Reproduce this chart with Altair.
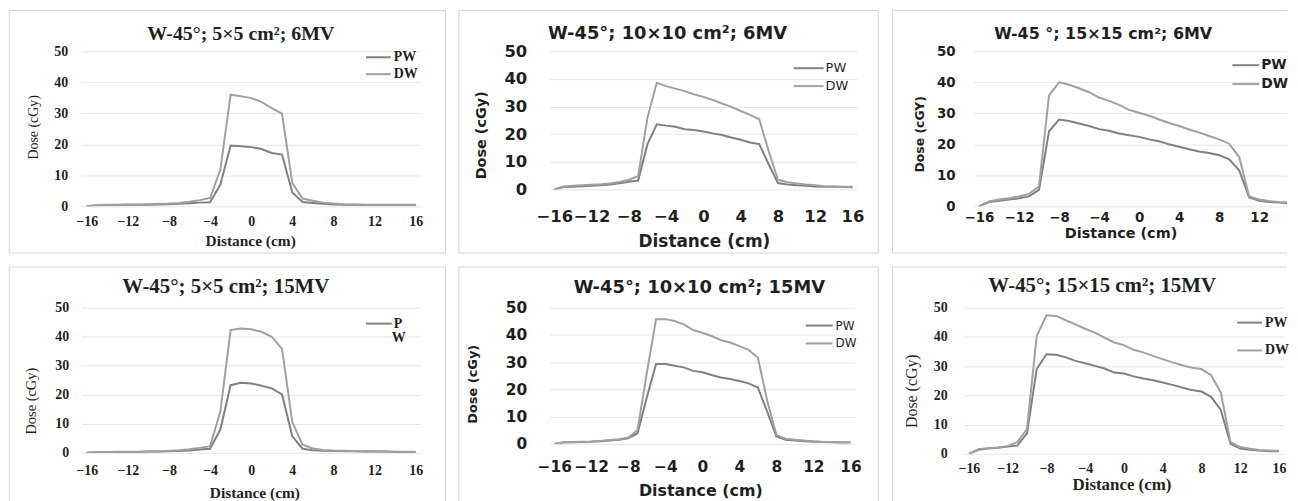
import altair as alt
import pandas as pd

# ---------------- data ----------------
distance = list(range(-16, 17))

pw_5_6 = [0, 0.3, 0.4, 0.4, 0.5, 0.5, 0.5, 0.6, 0.7, 0.8, 1.0, 1.2, 1.3,
          7.0, 19.6, 19.4, 19.1, 18.5, 17.2, 16.7,
          4.5, 1.4, 1.1, 0.8, 0.6, 0.5, 0.5, 0.4, 0.4, 0.4, 0.4, 0.4, 0.4]
dw_5_6 = [0, 0.4, 0.5, 0.5, 0.6, 0.6, 0.7, 0.8, 0.9, 1.1, 1.5, 2.0, 2.7,
          11.8, 36.0, 35.5, 34.9, 33.7, 31.7, 29.9,
          7.5, 2.5, 1.8, 1.2, 0.9, 0.7, 0.6, 0.5, 0.5, 0.5, 0.5, 0.5, 0.5]

pw_10_6 = [0, 0.9, 1.0, 1.2, 1.3, 1.5, 1.8, 2.2, 2.8, 3.2,
           16.4, 23.6, 23.1, 22.7, 21.8, 21.5, 21.0, 20.3, 19.7, 18.8, 18.0, 17.0, 16.4,
           9.2, 2.3, 1.8, 1.5, 1.3, 1.1, 1.0, 1.0, 0.9, 0.8]
dw_10_6 = [0, 1.1, 1.3, 1.5, 1.7, 1.9, 2.2, 2.7, 3.5, 4.8,
           26.0, 38.6, 37.4, 36.5, 35.6, 34.4, 33.5, 32.4, 31.1, 29.9, 28.4, 27.0, 25.4,
           14.0, 3.5, 2.6, 2.2, 1.8, 1.5, 1.2, 1.1, 1.0, 1.0]

pw_15_6 = [0, 1.4, 1.8, 2.2, 2.6, 3.2, 5.3,
           24.2, 28.0, 27.5, 26.7, 25.9, 24.9, 24.4, 23.5, 22.9, 22.4, 21.6, 21.0, 20.0,
           19.2, 18.4, 17.7, 17.2, 16.5, 15.2, 11.6,
           2.9, 1.8, 1.4, 1.2, 1.0, 0.9]
dw_15_6 = [0, 1.6, 2.2, 2.6, 3.2, 4.0, 6.5,
           35.8, 40.0, 39.2, 38.1, 36.8, 35.1, 34.0, 32.7, 31.1, 30.2, 29.2, 28.0, 26.9,
           25.9, 24.8, 23.8, 22.7, 21.6, 20.2, 15.9,
           3.2, 2.2, 1.7, 1.4, 1.2, 1.0]

pw_5_15 = [0, 0.2, 0.3, 0.3, 0.3, 0.3, 0.4, 0.4, 0.5, 0.6, 0.8, 1.1, 1.4,
           8.0, 23.3, 24.1, 23.9, 23.1, 22.2, 20.1,
           5.7, 1.4, 0.9, 0.7, 0.6, 0.5, 0.5, 0.4, 0.4, 0.4, 0.3, 0.3, 0.3]
dw_5_15 = [0, 0.3, 0.3, 0.4, 0.4, 0.4, 0.5, 0.5, 0.7, 0.9, 1.2, 1.7, 2.3,
           14.2, 42.3, 42.8, 42.6, 41.7, 40.0, 35.8,
           10.5, 2.8, 1.5, 1.0, 0.8, 0.7, 0.6, 0.6, 0.5, 0.5, 0.4, 0.4, 0.4]

pw_10_15 = [0, 0.5, 0.6, 0.7, 0.8, 1.0, 1.2, 1.5, 2.0, 3.9,
            17.0, 29.3, 29.3, 28.7, 28.1, 26.8, 26.3, 25.3, 24.4, 23.8, 23.1, 22.2, 20.7,
            11.9, 2.7, 1.5, 1.2, 1.0, 0.8, 0.7, 0.6, 0.5, 0.5]
dw_10_15 = [0, 0.6, 0.7, 0.8, 0.9, 1.1, 1.4, 1.7, 2.3, 5.1,
            26.0, 45.8, 45.8, 45.1, 43.9, 41.8, 40.8, 39.6, 38.1, 37.2, 35.9, 34.5, 31.7,
            16.0, 3.3, 1.9, 1.5, 1.2, 1.0, 0.8, 0.7, 0.6, 0.5]

pw_15_15 = [0, 1.4, 1.8, 2.1, 2.5, 2.8, 7.0,
            29.0, 34.1, 33.9, 33.0, 31.8, 31.0, 30.1, 29.2, 27.8, 27.5, 26.5, 25.8, 25.2,
            24.4, 23.6, 22.7, 21.8, 21.3, 19.5, 15.0,
            3.4, 1.8, 1.4, 1.1, 0.9, 0.9]
dw_15_15 = [0, 1.6, 1.9, 2.2, 2.6, 4.0, 8.5,
            40.3, 47.4, 47.2, 45.7, 44.3, 42.8, 41.5, 39.8, 38.1, 37.2, 35.6, 34.7, 33.5,
            32.4, 31.3, 30.3, 29.5, 29.0, 26.9, 21.0,
            4.0, 2.3, 1.7, 1.3, 1.1, 1.0]

panel_titles = ["W-45°; 5×5 cm²; 6MV", "W-45°; 10×10 cm²; 6MV", "W-45 °; 15×15 cm²; 6MV",
                "W-45°; 5×5 cm²; 15MV", "W-45°; 10×10 cm²; 15MV", "W-45°; 15×15 cm²; 15MV"]
y_titles = ["Dose (cGy)", "Dose (cGy)", "Dose (cGY)", "Dose (cGy)", "Dose (cGy)", "Dose (cGy)"]
x_title = "Distance (cm)"
legend_labels = [["PW", "DW"], ["PW", "DW"], ["PW", "DW"], ["P", "W"], ["PW", "DW"], ["PW", "DW"]]
series_names = ["PW", "DW"]
x_ticks = [-16, -12, -8, -4, 0, 4, 8, 12, 16]
x_ticks_cut = [-16, -12, -8, -4, 0, 4, 8, 12]
y_ticks = [0, 10, 20, 30, 40, 50]

# ---------------- style ----------------
SERIF = "Liberation Serif"
SANS = "DejaVu Sans"
TXT = "#1f1f1f"
GRID = "#e6e6e6"
BORDER = "#d6d6d6"
C_PW = "#808080"
C_DW = "#a0a0a0"

# layout in page pixels (x-title y is its alphabetic baseline)
layouts = [
    dict(font=SERIF, L=80.8, T=49, W=341.4, H=156, box=(8, 447, 8, 252), right=True,
         xdom=[-16.5, 16.5], xt=x_ticks,
         tpos=(241, 32), tsize=20,
         ytpos=(32, 125), ytsize=14, ytw="normal",
         xtpos=(250.5, 244), xtsize=15.5, xtw="bold",
         lsize=14, lw="bold", ylpad=14, xlcy=220,
         leg=(367, 392, [395, 395], [55, 72], [True, True]), legsize=14, legw="bold"),
    dict(font=SANS, L=550.3, T=49, W=309.4, H=139, box=(459, 881, 8, 252), right=True,
         xdom=[-16.5, 16.5], xt=x_ticks,
         tpos=(669, 32), tsize=18,
         ytpos=(482, 133), ytsize=14.5, ytw="bold",
         xtpos=(705.5, 245), xtsize=17, xtw="bold",
         lsize=16.5, lw="bold", ylpad=23, xlcy=215,
         leg=(796, 826, [828, 828], [66, 84], [True, True]), legsize=13, legw="normal"),
    dict(font=SANS, L=975, T=49, W=315, H=156, box=(893, 1290, 8, 252), right=False,
         xdom=[-16.5, 14.78], xt=x_ticks_cut,
         tpos=(1105, 32), tsize=16,
         ytpos=(920, 132), ytsize=12.5, ytw="bold",
         xtpos=(1122.5, 236), xtsize=14.5, xtw="bold",
         lsize=13.5, lw="bold", ylpad=19, xlcy=216,
         leg=(1235, 1262, [1264, 1264], [63, 82], [True, True]), legsize=14, legw="bold"),
    dict(font=SERIF, L=80.8, T=305, W=341.4, H=146, box=(8, 447, 264, 511), right=True,
         xdom=[-16.5, 16.5], xt=x_ticks,
         tpos=(226, 284), tsize=21,
         ytpos=(30, 398.5), ytsize=14.5, ytw="normal",
         xtpos=(254.7, 495.5), xtsize=15.5, xtw="bold",
         lsize=14, lw="bold", ylpad=13, xlcy=469,
         leg=(367, 393, [395, 393], [321, 335], [True, False]), legsize=14, legw="bold"),
    dict(font=SANS, L=550.3, T=305, W=307.3, H=137, box=(459, 881, 264, 511), right=True,
         xdom=[-16.5, 16.5], xt=x_ticks,
         tpos=(701, 285), tsize=18,
         ytpos=(473, 381.5), ytsize=13, ytw="bold",
         xtpos=(702, 494), xtsize=16, xtw="bold",
         lsize=15.5, lw="bold", ylpad=23, xlcy=465,
         leg=(808, 835, [838, 838], [323, 341], [True, True]), legsize=12, legw="normal"),
    dict(font=SERIF, L=965.1, T=305, W=321.75, H=147, box=(893, 1290, 264, 511), right=False,
         xdom=[-16.5, 16.5], xt=x_ticks,
         tpos=(1104, 283), tsize=21,
         ytpos=(912, 388.5), ytsize=16, ytw="normal",
         xtpos=(1123.5, 488), xtsize=17, xtw="bold",
         lsize=14, lw="bold", ylpad=17, xlcy=467,
         leg=(1240, 1265, [1268, 1268], [320, 348], [True, True]), legsize=14, legw="bold"),
]

series = [(pw_5_6, dw_5_6), (pw_10_6, dw_10_6), (pw_15_6, dw_15_6),
          (pw_5_15, dw_5_15), (pw_10_15, dw_10_15), (pw_15_15, dw_15_15)]

one = pd.DataFrame({"k": [0]})


def make_panel(i):
    p = layouts[i]
    pw, dw = series[i]
    L, T, W, H = p["L"], p["T"], p["W"], p["H"]
    df = pd.DataFrame({
        "Distance": distance + distance,
        "Dose": pw + dw,
        "Series": [series_names[0]] * len(distance) + [series_names[1]] * len(distance),
    })
    bx1, bx2, by1, by2 = p["box"]
    # invisible rect that fixes the panel's bounds, plus visible border sides
    bounds = alt.Chart(one).mark_rect(fillOpacity=0, strokeOpacity=0).encode(
        x=alt.value(bx1 - L), x2=alt.value(bx2 - L),
        y=alt.value(by1 - T), y2=alt.value(by2 - T))
    border = [
        alt.Chart(one).mark_rule(color=BORDER, strokeWidth=1).encode(
            x=alt.value(bx1 - L), x2=alt.value(bx2 - L), y=alt.value(by1 - T)),
        alt.Chart(one).mark_rule(color=BORDER, strokeWidth=1).encode(
            x=alt.value(bx1 - L), x2=alt.value(bx2 - L), y=alt.value(by2 - T)),
        alt.Chart(one).mark_rule(color=BORDER, strokeWidth=1).encode(
            x=alt.value(bx1 - L), y=alt.value(by1 - T), y2=alt.value(by2 - T)),
    ]
    if p["right"]:
        border.append(alt.Chart(one).mark_rule(color=BORDER, strokeWidth=1).encode(
            x=alt.value(bx2 - L), y=alt.value(by1 - T), y2=alt.value(by2 - T)))

    x_axis = alt.Axis(values=p["xt"], grid=False, ticks=False, tickSize=0, domain=False,
                      labelFont=p["font"], labelFontSize=p["lsize"], labelFontWeight=p["lw"],
                      labelColor=TXT, labelPadding=p["xlcy"] - (T + H), labelBaseline="middle",
                      labelFlush=False, labelOverlap=False,
                      title=x_title, titleFont=p["font"], titleFontSize=p["xtsize"],
                      titleFontWeight=p["xtw"], titleColor=TXT,
                      titleX=p["xtpos"][0] - L, titleY=p["xtpos"][1] - (T + H),
                      titleAlign="center", titleBaseline="alphabetic", titleAngle=0)
    y_axis = alt.Axis(values=y_ticks, grid=True, gridColor=GRID, gridWidth=1,
                      ticks=False, tickSize=0, domain=False,
                      labelFont=p["font"], labelFontSize=p["lsize"], labelFontWeight=p["lw"],
                      labelColor=TXT, labelPadding=p["ylpad"], labelAlign="right",
                      labelBaseline="middle", labelOverlap=False,
                      title=y_titles[i], titleFont=p["font"], titleFontSize=p["ytsize"],
                      titleFontWeight=p["ytw"], titleColor=TXT,
                      titleX=p["ytpos"][0] - L, titleY=p["ytpos"][1] - T,
                      titleAlign="center", titleBaseline="middle", titleAngle=270)

    lines = alt.Chart(df).mark_line(strokeWidth=2, clip=True).encode(
        x=alt.X("Distance:Q", scale=alt.Scale(domain=p["xdom"], nice=False, zero=False), axis=x_axis),
        y=alt.Y("Dose:Q", scale=alt.Scale(domain=[0, 50], nice=False), axis=y_axis),
        color=alt.Color("Series:N", scale=alt.Scale(domain=series_names, range=[C_PW, C_DW]), legend=None),
    )

    title = alt.Chart(one).mark_text(text=panel_titles[i], font=p["font"], fontSize=p["tsize"],
                                     fontWeight="bold", color=TXT, align="center",
                                     baseline="middle").encode(
        x=alt.value(p["tpos"][0] - L), y=alt.value(p["tpos"][1] - T))

    layers = [bounds] + border + [lines, title]
    lx1, lx2, txs, lys, has_line = p["leg"]
    colors = [C_PW, C_DW]
    for k, lab in enumerate(legend_labels[i]):
        if has_line[k]:
            layers.append(alt.Chart(one).mark_rule(color=colors[k], strokeWidth=2).encode(
                x=alt.value(lx1 - L), x2=alt.value(lx2 - L), y=alt.value(lys[k] - T)))
        layers.append(alt.Chart(one).mark_text(text=lab, font=p["font"], fontSize=p["legsize"],
                                               fontWeight=p["legw"], color=TXT, align="left",
                                               baseline="middle").encode(
            x=alt.value(txs[k] - L), y=alt.value(lys[k] - T)))
    return alt.layer(*layers).properties(width=W, height=H)


row1 = alt.hconcat(make_panel(0), make_panel(1), make_panel(2), spacing=12)
row2 = alt.hconcat(make_panel(3), make_panel(4), make_panel(5), spacing=12)
chart = alt.vconcat(row1, row2, spacing=12, padding=0, background="white").configure_view(strokeWidth=0)

chart.save("out.html", embed_options={"renderer": "svg", "actions": False})
